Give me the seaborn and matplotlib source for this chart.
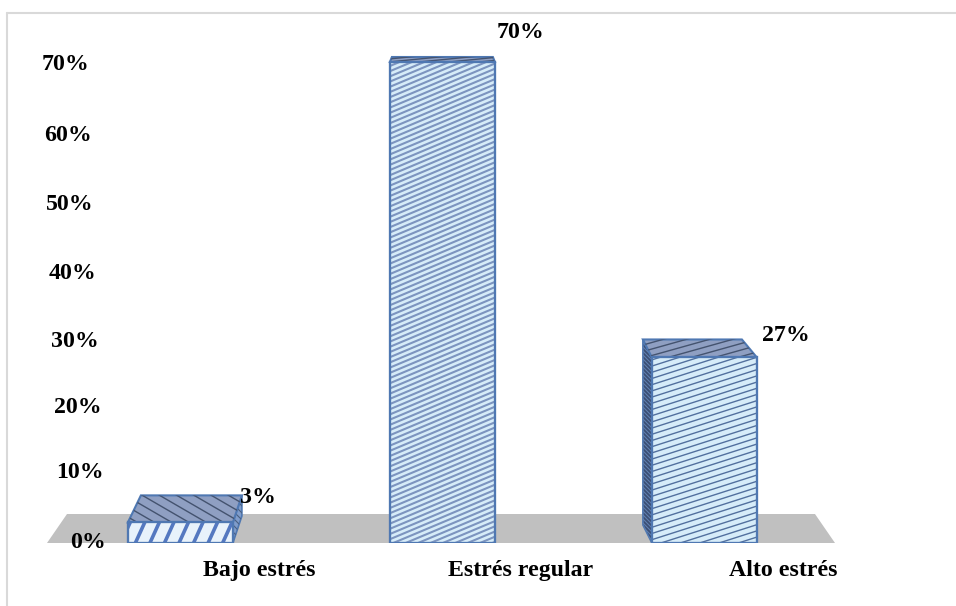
import matplotlib
matplotlib.use("Agg")
import matplotlib.pyplot as plt
import seaborn as sns
import numpy as np
from matplotlib.collections import LineCollection
from matplotlib.lines import Line2D
from matplotlib.patches import Polygon
from matplotlib.transforms import Affine2D

categories = ["Bajo estrés", "Estrés regular", "Alto estrés"]
values = [3, 70, 27]
y_ticks = [0, 10, 20, 30, 40, 50, 60, 70]
y_labels = ["0%", "10%", "20%", "30%", "40%", "50%", "60%", "70%"]

W, H = 956, 606
L_PX, R_PX, B_PX, T_PX = 105, 860, 543, 13
X0_PX, X_STEP = 259.0, 262.0
Y_UNIT = (543 - 62) / 70.0

# 3D appearance, in pixels
back_left = [13, 2, -9]
back_right = [9, -2, -15]
depth = [27, 5, 18]
side = ["right", None, "left"]
front_hatch = [(2.2, 32.0, "#5478c0", 2.6), (0.42, 5.2, "#7c94bf", 1.5), (0.32, 6.2, "#52709e", 1.0)]
top_hatch = [(-0.58, 10.0), (0.1, 3.0), (0.28, 6.5)]
label_off = [(-1, 25), (-1, 30), (3, 22)]
ytick_dx = [1, -1, -3, -6, -9, -11, -13, -16]
ytick_dy = [-1, -2, 2, 5, 5, 5, 5, 2]
FONT_SIZE = 17.2

FONT = "Liberation Serif"
sns.set_theme(style="white")
plt.rcParams["font.family"] = [FONT, "DejaVu Serif"]

fig = plt.figure(figsize=(W / 100, H / 100), dpi=100, facecolor="white")
ax = fig.add_axes([L_PX / W, 1 - B_PX / H, (R_PX - L_PX) / W, (B_PX - T_PX) / H])
ax.patch.set_alpha(0)

sns.barplot(x=categories, y=values, ax=ax, color="#d6ecf9", saturation=1,
            width=105 / X_STEP, edgecolor="#4f78b2", linewidth=1.5, zorder=3)
bars = list(ax.patches)
ax.set_xlim((L_PX - X0_PX) / X_STEP, (R_PX - X0_PX) / X_STEP)
ax.set_ylim(0, (B_PX - T_PX) / Y_UNIT)
ax.set_xlabel("")
ax.set_ylabel("")
ax.set_axisbelow(False)
sns.despine(ax=ax, left=True, bottom=True)


def dx(px):
    return px / X_STEP


def dy(px):
    return px / Y_UNIT


def hatch(clip, slope, spacing, color, lw, z):
    """Slanted lines, clipped to a patch; slope and spacing are in pixels."""
    xs = np.array([ax.get_xlim()[0] - 1, ax.get_xlim()[1] + 1])
    segs = []
    for o in np.arange(-6000, 6000, spacing):
        py = xs * X_STEP * slope + o
        segs.append(np.column_stack([xs, py / Y_UNIT]))
    lc = LineCollection(segs, colors=color, linewidths=lw, zorder=z)
    ax.add_collection(lc, autolim=False)
    lc.set_clip_path(clip)


# floor
floor_b = [(47 - X0_PX) / X_STEP, (835 - X0_PX) / X_STEP]
floor_t = [(67 - X0_PX) / X_STEP, (815 - X0_PX) / X_STEP]
ax.add_patch(Polygon([(floor_b[0], 0), (floor_b[1], 0), (floor_t[1], dy(29)), (floor_t[0], dy(29))],
                     closed=True, fc="#c0c0c0", ec="none", zorder=1, clip_on=False))

edge = "#4f78b2"
for i, bar in enumerate(bars):
    bar.set_x(bar.get_x() - 0.30)
    x0, x1 = bar.get_x(), bar.get_x() + bar.get_width()
    v = values[i]
    d = dy(depth[i])
    if i == 0:
        bar.set_facecolor("#e8f2fb")
    top = Polygon([(x0, v), (x1, v), (x1 + dx(back_right[i]), v + d), (x0 + dx(back_left[i]), v + d)],
                  closed=True, fc="#8f9fc2", ec=edge, lw=1.5, zorder=2.6)
    ax.add_patch(top)
    hatch(top, *top_hatch[i], "#44536f", 1.0, 2.7)
    if side[i] == "right":
        sd = Polygon([(x1, 0), (x1, v), (x1 + dx(back_right[i]), v + d), (x1 + dx(back_right[i]), d)],
                     closed=True, fc="#7f9ccb", ec=edge, lw=1.2, zorder=2.5)
        ax.add_patch(sd)
        hatch(sd, -1.0, 7.0, "#4a5f80", 0.8, 2.55)
    elif side[i] == "left":
        sd = Polygon([(x0, 0), (x0, v), (x0 + dx(back_left[i]), v + d), (x0 + dx(back_left[i]), d)],
                     closed=True, fc="#3a4d72", ec=edge, lw=1.2, zorder=2.5)
        ax.add_patch(sd)
        hatch(sd, -1.0, 4.0, "#5f7fb0", 0.8, 2.55)
    slope, spacing, col, lw = front_hatch[i]
    hatch(bar, slope, spacing, col, lw, 3.2)
    # redraw the outline above the hatch
    ax.add_patch(plt.Rectangle((x0, 0), bar.get_width(), v, fc="none", ec=edge, lw=1.6, zorder=3.4))

    ax.annotate(f"{v}%", xy=(i, v), xytext=label_off[i], textcoords="offset pixels",
                ha="center", va="center", fontsize=FONT_SIZE, fontweight="bold",
                color="black", zorder=5, annotation_clip=False)

# axes text
ax.set_yticks(y_ticks)
ax.set_yticklabels(y_labels, fontsize=FONT_SIZE, fontweight="bold", color="black")
ax.tick_params(axis="both", length=0, pad=0)
for lab, ddx, ddy in zip(ax.get_yticklabels(), ytick_dx, ytick_dy):
    lab.set_verticalalignment("center")
    lab.set_transform(lab.get_transform() + Affine2D().translate(ddx, -ddy))
ax.set_xticks(range(len(categories)))
ax.set_xticklabels(categories, fontsize=FONT_SIZE, fontweight="bold", color="black")
ax.tick_params(axis="x", pad=12)

# thin picture frame
for xs, ys in [((6.5 / W, 1), (1 - 12.5 / H, 1 - 12.5 / H)), ((6.5 / W, 6.5 / W), (1 - 12.5 / H, 0))]:
    fig.add_artist(Line2D(xs, ys, color="#d9d9d9", lw=1.5, transform=fig.transFigure))

fig.savefig("out.png", dpi=100)
